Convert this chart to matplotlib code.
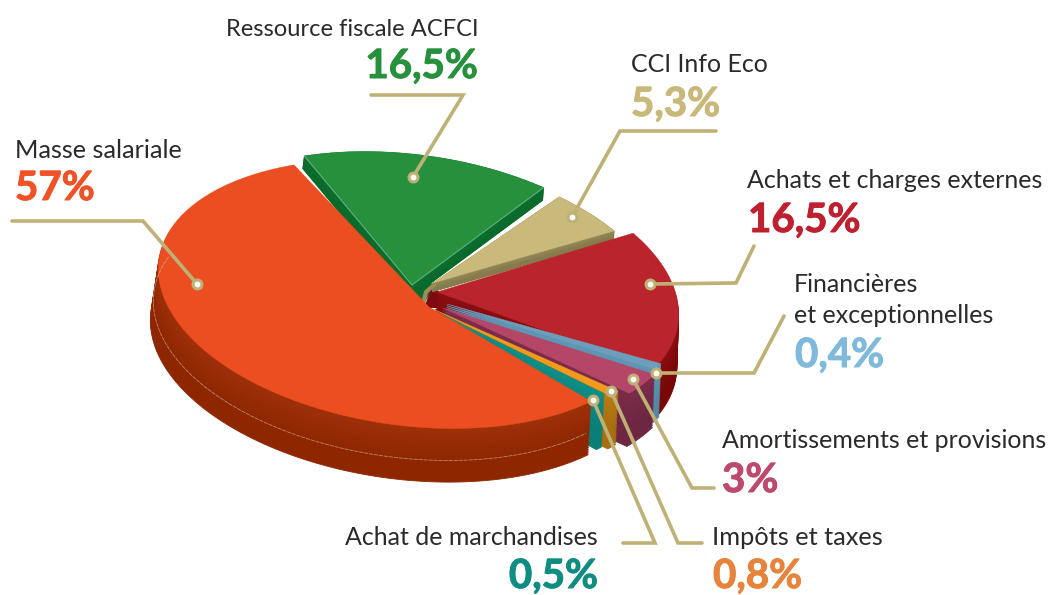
import numpy as np
import matplotlib
matplotlib.use('Agg')
import matplotlib.pyplot as plt
import matplotlib.patheffects as pe

# ---- data (order: counter-clockwise on screen, starting at the top of "Masse salariale")
categories = ["Masse salariale", "Achat de marchandises", "Impôts et taxes",
              "Amortissements et provisions", "Financières\net exceptionnelles",
              "Achats et charges externes", "CCI Info Eco", "Ressource fiscale ACFCI"]
values = [57, 0.5, 0.8, 3, 0.4, 16.5, 5.3, 16.5]
value_labels = ["57%", "0,5%", "0,8%", "3%", "0,4%", "16,5%", "5,3%", "16,5%"]

# ---- styles
top_colors = ["#EB4E20", "#0B8F86", "#F39A1E", "#B44668", "#6D9FBD", "#BA252D", "#C9B97A", "#27903C"]
side_hi = ["#9F300A", "#0C8C84", "#B87C12", "#7C2C4A", "#6097B5", "#8C0E12", "#938958", "#0C702F"]
side_lo = ["#8E2700", "#0A7F78", "#A86E10", "#6E2742", "#5588A5", "#780808", "#857B4C", "#0A6A2B"]
text_value_colors = ["#EF5226", "#0E8D80", "#E6843C", "#BD4A6E", "#7FB9DC", "#BE2030", "#C8B87A", "#27903C"]
offsets = [(0, 0), (8, -5), (14, -3), (25, -1), (26, -6), (23, -5), (8, -4), (4, -8)]
apexes = [(429, 307), (431, 309), (433, 309), (443, 308), (447, 304), (437, 292), (433, 283), (412, 285)]
# drawn gap in degrees at the start and end of each slice's arc
trims = [(0, 0), (0, 0), (0, 0), (0, 0), (0, -1.5), (-1, 1), (0.5, 1.5), (1.6, 1.6)]
# fraction of the full side height shown for each slice
side_height = [1, 1, 1, 1, 1, 1, 0.17, 0.25]
# text: x, baseline y of name's last line, baseline y of value, alignment
name_pos = [(15, 158), (598, 545), (712, 545), (722, 448), (794, 323), (747, 188), (631, 72), (478, 36)]
value_pos = [(15, 200), (598, 588), (713, 588), (722, 492), (795, 367), (748, 232), (631, 116), (478, 78)]
name_sizes = [18.2, 18, 18.3, 18, 18, 18, 18, 17.1]
aligns = ["left", "right", "left", "left", "left", "left", "left", "right"]
leaders = [
    [(12, 221), (143, 221), (197, 284)],
    [(623, 543), (655, 543), (593, 400)],
    [(702, 543), (678, 543), (611, 391)],
    [(714, 488), (692, 488), (633, 379)],
    [(784, 316), (754, 373), (656, 373)],
    [(754, 246), (736, 283), (650, 284)],
    [(716, 131), (620, 131), (572, 217)],
    [(371, 95), (463, 95), (413, 177)],
]
TEXT = "#2B2A29"
LEADER = "#BFB176"

# ---- projection of the tilted disc onto the picture
C = np.array([407.0, 294.0])
L0 = np.array([-248.0, -34.5])
L1 = np.array([-18.0, 130.0])
PHI = np.radians(41.55)
WARP = 0.04
THETA0 = PHI - np.radians(102.6)
EXTRUDE = np.array([-5.0, 52.0])
GROW = 0.012


def disc(theta):
    t = theta - WARP * np.sin(theta - PHI)
    return C + np.outer(np.cos(t), L0) + np.outer(np.sin(t), L1)


plt.rcParams['font.family'] = ['Lato', 'DejaVu Sans']
fig = plt.figure(figsize=(10.55, 5.95), dpi=100, facecolor='white')
ax = fig.add_axes([0, 0, 1, 1])
ax.set_xlim(0, 1055)
ax.set_ylim(595, 0)
ax.axis('off')

bounds = THETA0 + np.radians(np.concatenate([[0], np.cumsum(values)]) * 3.6)
polys = []
for i in range(len(values)):
    n = max(4, int(values[i] * 3))
    a0 = bounds[i] + np.radians(trims[i][0])
    a1 = bounds[i + 1] - np.radians(trims[i][1])
    arc = disc(np.linspace(a0, a1, n)) + np.array(offsets[i])
    polys.append(np.vstack([[apexes[i]], arc]))

# core of the pie, seen between the exploded slices
ax.fill([412, 436, 424, 405], [285, 283, 304, 297], color="#0A6A2B", lw=0, zorder=0.5)
ax.fill([432, 440, 448, 424], [286, 292, 308, 308], color="#7D0A0E", lw=0, zorder=0.6)

# painter's order: far slices first, the large slice last
order = [7, 6, 5, 4, 3, 2, 1, 0]
z = 1
for i in order:
    hi = np.array(matplotlib.colors.to_rgb(side_hi[i]))
    lo = np.array(matplotlib.colors.to_rgb(side_lo[i]))
    steps = 30
    for k in range(steps, 0, -1):
        f = k / steps
        col = hi + (lo - hi) * min(1, f * 1.6)
        h = f * side_height[i]
        low = C + (polys[i] - C) * (1 + GROW * h) + EXTRUDE * h
        ax.fill(*low.T, color=col, lw=0.6, zorder=z)
    z += 1
    ax.fill(*polys[i].T, color=top_colors[i], lw=0.3, zorder=z)
    z += 1
    if i == 7:
        p = polys[i]
        ax.plot([p[1, 0], p[0, 0], p[-1, 0]], [p[1, 1], p[0, 1], p[-1, 1]],
                color="#62AD80", lw=0.8, zorder=z)
        z += 1
    if i == 6:
        ax.plot([434, 426, 423], [285, 292, 304], color="#9A8E5C", lw=3, zorder=z)
        z += 1

# faint seam on the side of the large slice
seam = disc(np.linspace(bounds[0] + 0.75, bounds[1], 120)) + np.array([-5, 32])
ax.plot(*seam.T, color="#E6C4B4", lw=0.6, alpha=0.6, ls=(0, (5, 1)), zorder=z)
z += 1

for pts in leaders:
    pts = np.array(pts)
    ax.plot(pts[:, 0], pts[:, 1], color=LEADER, lw=2.6, solid_capstyle='round',
            solid_joinstyle='miter', zorder=z)
    ax.plot(pts[-1, 0], pts[-1, 1], 'o', ms=6.4, mfc='white', mec=LEADER, mew=2.2, zorder=z + 1)

for i, cat in enumerate(categories):
    lines = cat.split("\n")
    x, y = name_pos[i]
    for j, line in enumerate(lines):
        ax.text(x, y - (len(lines) - 1 - j) * 31, line, fontsize=name_sizes[i], color=TEXT,
                ha=aligns[i], va='baseline', zorder=z + 2)
    x, y = value_pos[i]
    ax.text(x, y, value_labels[i], fontsize=29, fontweight='bold',
            color=text_value_colors[i], ha=aligns[i], va='baseline', zorder=z + 2,
            path_effects=[pe.withStroke(linewidth=0.7, foreground=text_value_colors[i])])

fig.savefig('out.png', dpi=100)
